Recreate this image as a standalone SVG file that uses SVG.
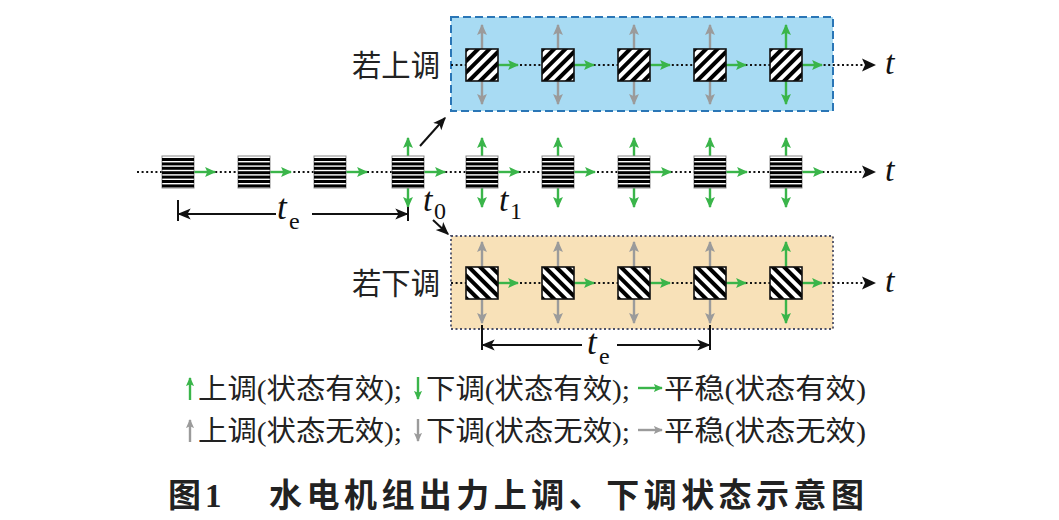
<svg xmlns="http://www.w3.org/2000/svg" xmlns:xlink="http://www.w3.org/1999/xlink" width="1059" height="520" viewBox="0 0 1059 520">
<style>
.dot{stroke:#111;stroke-width:2;stroke-dasharray:2 2.6;fill:none}
.ga{stroke:#3ab54a;stroke-width:2.4;fill:none}
.gr{stroke:#9b9b9b;stroke-width:2.4;fill:none}
.bk{stroke:#111;stroke-width:2;fill:none}
.cjk{font-family:"Liberation Serif","Noto Sans CJK SC",serif;fill:#222}
.ti{font-family:"Liberation Serif",serif;font-style:italic;fill:#111}
.sub{font-family:"Liberation Serif",serif;fill:#111}
.ttl{font-family:"Liberation Serif","Noto Sans CJK SC",sans-serif;font-weight:bold;fill:#222}
</style>
<defs>
<marker id="mg" viewBox="0 0 10 10" refX="9" refY="5" markerWidth="11" markerHeight="11" markerUnits="userSpaceOnUse" orient="auto-start-reverse"><path d="M0,0.5 L10,5 L0,9.5 L2,5 z" fill="#3ab54a"/></marker>
<marker id="my" viewBox="0 0 10 10" refX="9" refY="5" markerWidth="11" markerHeight="11" markerUnits="userSpaceOnUse" orient="auto-start-reverse"><path d="M0,0.5 L10,5 L0,9.5 L2,5 z" fill="#9b9b9b"/></marker>
<marker id="mk" viewBox="0 0 10 10" refX="9" refY="5" markerWidth="13" markerHeight="13" markerUnits="userSpaceOnUse" orient="auto-start-reverse"><path d="M0,0.8 L10,5 L0,9.2 L2.5,5 z" fill="#111"/></marker>
<marker id="mgs" viewBox="0 0 10 10" refX="9" refY="5" markerWidth="9" markerHeight="9" markerUnits="userSpaceOnUse" orient="auto"><path d="M0,0.5 L10,5 L0,9.5 L2,5 z" fill="#3ab54a"/></marker>
<marker id="mys" viewBox="0 0 10 10" refX="9" refY="5" markerWidth="9" markerHeight="9" markerUnits="userSpaceOnUse" orient="auto"><path d="M0,0.5 L10,5 L0,9.5 L2,5 z" fill="#9b9b9b"/></marker>
<pattern id="pu" width="8" height="8" patternUnits="userSpaceOnUse" patternTransform="rotate(45)"><rect width="4" height="8" fill="#000"/></pattern>
<pattern id="pd" width="8" height="8" patternUnits="userSpaceOnUse" patternTransform="rotate(-45)"><rect width="4" height="8" fill="#000"/></pattern>
<g id="bH">
<rect x="-16" y="-16" width="32" height="32" fill="#fff" stroke="#8a8a8a" stroke-width="1"/>
<g fill="#000"><rect x="-16" y="-14" width="32" height="3"/><rect x="-16" y="-9.6" width="32" height="3"/><rect x="-16" y="-5.2" width="32" height="3"/><rect x="-16" y="-0.8" width="32" height="3"/><rect x="-16" y="3.6" width="32" height="3"/><rect x="-16" y="8" width="32" height="3"/><rect x="-16" y="12.4" width="32" height="3"/></g>
</g>
<g id="bU"><rect x="-16" y="-16" width="32" height="32" fill="#fff"/><rect x="-16" y="-16" width="32" height="32" fill="url(#pu)" stroke="#111" stroke-width="1.6"/></g>
<g id="bD"><rect x="-16" y="-16" width="32" height="32" fill="#fff"/><rect x="-16" y="-16" width="32" height="32" fill="url(#pd)" stroke="#111" stroke-width="1.6"/></g>
</defs>

<rect width="1059" height="520" fill="#fff"/>

<g id="box-up"><rect x="451" y="17" width="382" height="94" fill="#a8dbf3" stroke="#2a76b6" stroke-width="2" stroke-dasharray="8 4"/></g>
<g id="box-down"><rect x="451" y="236" width="382" height="93" fill="#f8e1b8" stroke="#4d5068" stroke-width="1.8" stroke-dasharray="2 2.5"/></g>

<g id="connectors">
<path class="dot" d="M137,172 H864"/>
<path class="dot" d="M451,65 H864"/>
<path class="dot" d="M451,283 H864"/>
<path d="M876,172 L862,165.5 L865,172 L862,178.5 z M876,65 L862,58.5 L865,65 L862,71.5 z M876,283 L862,276.5 L865,283 L862,289.5 z" fill="#111"/>
<path class="bk" d="M420,146 L445,118" marker-end="url(#mk)"/>
<path class="bk" d="M433,220 L448,234" marker-end="url(#mk)"/>
<g class="ga" marker-start="url(#mg)" marker-end="url(#mg)">
<path d="M408,138 V207"/><path d="M482,138 V207"/><path d="M558,138 V207"/><path d="M634,138 V207"/><path d="M710,138 V207"/><path d="M786,138 V207"/>
</g>
<g class="gr" marker-start="url(#my)" marker-end="url(#my)">
<path d="M482,25 V104"/><path d="M558,25 V104"/><path d="M634,25 V104"/><path d="M710,25 V104"/>
</g>
<path class="ga" d="M786,25 V104" marker-start="url(#mg)" marker-end="url(#mg)"/>
<g class="gr" marker-start="url(#my)" marker-end="url(#my)">
<path d="M482,242 V323"/><path d="M558,242 V323"/><path d="M634,242 V323"/><path d="M710,242 V323"/>
</g>
<path class="ga" d="M786,242 V323" marker-start="url(#mg)" marker-end="url(#mg)"/>
<g class="ga" marker-end="url(#mg)">
<path d="M194,172 h21"/><path d="M270,172 h21"/><path d="M346,172 h21"/><path d="M424,172 h21"/><path d="M498,172 h21"/><path d="M574,172 h21"/><path d="M650,172 h21"/><path d="M726,172 h21"/><path d="M802,172 h21"/>
<path d="M498,65 h20"/><path d="M574,65 h20"/><path d="M650,65 h20"/><path d="M726,65 h20"/><path d="M802,65 h20"/>
<path d="M498,283 h20"/><path d="M574,283 h20"/><path d="M650,283 h20"/><path d="M726,283 h20"/><path d="M802,283 h20"/>
</g>
<path class="bk" d="M178,200 V221 M408,207 V221 M482,325 V350 M710,325 V350"/>
<path class="bk" d="M276,214 H179" marker-end="url(#mk)"/>
<path class="bk" d="M312,214 H407" marker-end="url(#mk)"/>
<path class="bk" d="M582,345 H483" marker-end="url(#mk)"/>
<path class="bk" d="M617,345 H709" marker-end="url(#mk)"/>
</g>

<g id="nodes-mid">
<g id="m1"><use xlink:href="#bH" x="178" y="172"/></g>
<g id="m2"><use xlink:href="#bH" x="254" y="172"/></g>
<g id="m3"><use xlink:href="#bH" x="330" y="172"/></g>
<g id="m4"><use xlink:href="#bH" x="408" y="172"/></g>
<g id="m5"><use xlink:href="#bH" x="482" y="172"/></g>
<g id="m6"><use xlink:href="#bH" x="558" y="172"/></g>
<g id="m7"><use xlink:href="#bH" x="634" y="172"/></g>
<g id="m8"><use xlink:href="#bH" x="710" y="172"/></g>
<g id="m9"><use xlink:href="#bH" x="786" y="172"/></g>
</g>
<g id="nodes-up">
<g id="u1"><use xlink:href="#bU" x="482" y="65"/></g>
<g id="u2"><use xlink:href="#bU" x="558" y="65"/></g>
<g id="u3"><use xlink:href="#bU" x="634" y="65"/></g>
<g id="u4"><use xlink:href="#bU" x="710" y="65"/></g>
<g id="u5"><use xlink:href="#bU" x="786" y="65"/></g>
</g>
<g id="nodes-down">
<g id="d1"><use xlink:href="#bD" x="482" y="283"/></g>
<g id="d2"><use xlink:href="#bD" x="558" y="283"/></g>
<g id="d3"><use xlink:href="#bD" x="634" y="283"/></g>
<g id="d4"><use xlink:href="#bD" x="710" y="283"/></g>
<g id="d5"><use xlink:href="#bD" x="786" y="283"/></g>
</g>

<g id="labels">
<text class="cjk" x="352" y="76" font-size="30" textLength="88" lengthAdjust="spacingAndGlyphs">若上调</text>
<text class="cjk" x="352" y="294" font-size="30" textLength="88" lengthAdjust="spacingAndGlyphs">若下调</text>
<text class="ti" x="885" y="74" font-size="34">t</text>
<text class="ti" x="885" y="181" font-size="34">t</text>
<text class="ti" x="885" y="292" font-size="34">t</text>
<text class="ti" x="423" y="211" font-size="34">t</text><text class="sub" x="434" y="219" font-size="24">0</text>
<text class="ti" x="499" y="211" font-size="34">t</text><text class="sub" x="510" y="219" font-size="24">1</text>
<text class="ti" x="277" y="219" font-size="35">t</text><text class="sub" x="289" y="229" font-size="24">e</text>
<text class="ti" x="587" y="354" font-size="35">t</text><text class="sub" x="599" y="364" font-size="24">e</text>
</g>

<g id="legend">
<path class="ga" d="M190,400 V378" marker-end="url(#mgs)"/>
<text class="cjk" x="198" y="399" font-size="28" textLength="204" lengthAdjust="spacingAndGlyphs">上调(状态有效);</text>
<path class="ga" d="M418,377 V399" marker-end="url(#mgs)"/>
<text class="cjk" x="426" y="399" font-size="28" textLength="204" lengthAdjust="spacingAndGlyphs">下调(状态有效);</text>
<path class="ga" d="M638,388 H662" marker-end="url(#mgs)"/>
<text class="cjk" x="664" y="399" font-size="28" textLength="202" lengthAdjust="spacingAndGlyphs">平稳(状态有效)</text>

<path class="gr" d="M190,442 V420" marker-end="url(#mys)"/>
<text class="cjk" x="198" y="441" font-size="28" textLength="204" lengthAdjust="spacingAndGlyphs">上调(状态无效);</text>
<path class="gr" d="M418,419 V441" marker-end="url(#mys)"/>
<text class="cjk" x="426" y="441" font-size="28" textLength="204" lengthAdjust="spacingAndGlyphs">下调(状态无效);</text>
<path class="gr" d="M638,430 H662" marker-end="url(#mys)"/>
<text class="cjk" x="664" y="441" font-size="28" textLength="202" lengthAdjust="spacingAndGlyphs">平稳(状态无效)</text>
</g>

<g id="title">
<text class="ttl" x="168" y="507" font-size="33">图<tspan dx="4">1</tspan></text>
<text class="ttl" x="269" y="507" font-size="33" textLength="595" lengthAdjust="spacing">水电机组出力上调、下调状态示意图</text>
</g>
</svg>
